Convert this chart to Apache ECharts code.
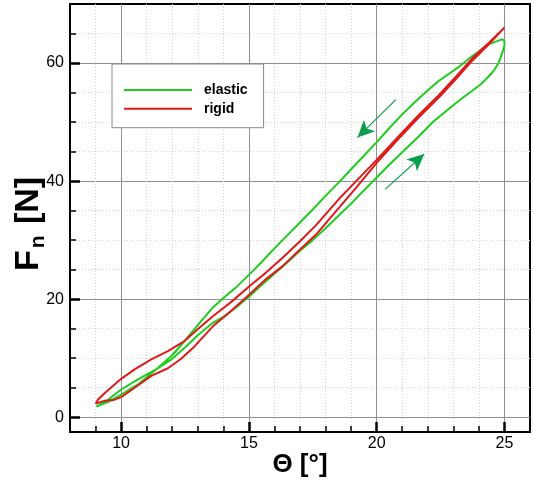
<!DOCTYPE html>
<html>
<head>
<meta charset="utf-8">
<script src="https://cdn.jsdelivr.net/npm/echarts@6/dist/echarts.min.js"></script>
<style>
html,body{margin:0;padding:0;background:#fff;}
#chart{width:534px;height:483px;}
</style>
</head>
<body>
<div id="chart"></div>
<script>
// ---- data ----
var seriesNames = ['elastic', 'rigid'];
var xMajorTicks = [10, 15, 20, 25];
var xMinorTicks = [9, 11, 12, 13, 14, 16, 17, 18, 19, 21, 22, 23, 24];
var yMajorTicks = [0, 20, 40, 60];
var yMinorTicks = [5, 10, 15, 25, 30, 35, 45, 50, 55, 65];

var elasticLoading = [[9.03,1.8],[9.5,3.0],[10.0,4.7],[10.66,6.4],[11.37,8.1],[12.0,9.9],[12.5,11.8],[13.0,13.9],[13.59,16.0],[14.0,17.0],[14.5,18.6],[15.02,20.5],[15.5,22.4],[16.0,24.3],[16.5,26.2],[17.0,28.2],[17.5,30.0],[18.0,32.0],[18.5,34.1],[19.0,36.2],[19.5,38.4],[20.0,40.6],[20.5,42.8],[21.0,44.9],[21.65,47.6],[22.2,50.0],[22.84,52.3],[23.3,53.9],[23.74,55.3],[24.1,56.5],[24.4,57.8],[24.6,58.8],[24.78,60.1],[24.92,61.8],[25.0,63.0],[25.0,63.8]];
var elasticUnloading = [[24.9,64.0],[24.4,63.2],[23.74,61.2],[23.2,59.3],[22.44,57.0],[22.0,55.4],[21.5,53.4],[21.0,51.3],[20.5,49.0],[20.0,46.6],[19.5,44.3],[19.0,42.0],[18.5,39.7],[18.0,37.5],[17.5,35.2],[17.0,33.0],[16.5,30.8],[16.0,28.6],[15.5,26.3],[15.02,24.2],[14.5,22.0],[14.0,20.2],[13.59,18.6],[13.0,15.6],[12.5,13.0],[12.0,10.5],[11.37,8.1],[10.66,5.55],[10.0,3.85],[9.5,2.6],[9.03,1.8]];
var rigidLoading = [[9.0,2.3],[9.36,2.8],[9.7,2.9],[10.0,3.4],[10.53,5.0],[11.18,7.0],[11.83,8.3],[12.35,9.9],[12.87,12.0],[13.59,15.4],[14.2,17.6],[15.02,20.8],[15.67,23.4],[16.32,25.6],[17.0,28.4],[17.62,30.9],[18.53,35.5],[19.2,38.9],[20.0,43.1],[20.8,46.9],[21.65,50.8],[22.44,54.2],[23.1,57.3],[23.74,60.4],[24.4,63.2],[25.0,66.0]];
var rigidUnloading = [[25.0,66.0],[24.4,63.5],[23.74,60.8],[23.1,57.7],[22.44,54.6],[21.65,51.2],[20.8,47.3],[20.0,43.6],[19.2,40.0],[18.53,37.0],[17.62,32.5],[17.0,29.8],[16.32,27.0],[15.67,24.5],[15.02,22.2],[14.3,19.5],[13.59,17.1],[13.13,15.4],[12.48,12.9],[11.83,11.2],[11.18,9.8],[10.53,8.1],[10.0,6.5],[9.6,5.0],[9.36,4.1],[9.1,3.0],[9.0,2.3]];
// direction arrows: [start, end] in data coordinates
var unloadArrow = [[20.75, 53.8], [19.25, 47.4]];
var loadArrow = [[20.33, 38.6], [21.86, 44.6]];

var FONT = 'Liberation Sans';
var chart = echarts.init(document.getElementById('chart'), null, {renderer: 'canvas'});

function displayAxis(dim, min, max, majors, extra) {
  var base = {
    type: 'value', min: min, max: max, position: dim === 'x' ? 'bottom' : 'left',
    axisLine: {show: true, onZero: false, lineStyle: {color: '#000', width: 2}},
    axisTick: {show: true, inside: true, length: 10, customValues: majors, lineStyle: {color: '#000', width: 2.5}},
    axisLabel: {show: true, customValues: majors, fontSize: 16, color: '#000', fontFamily: FONT, margin: dim === 'x' ? 4 : 6},
    splitLine: {show: true, lineStyle: {color: '#8f8f8f', width: 1}},
    minorTick: {show: false},
    nameMoveOverlap: false
  };
  return Object.assign(base, extra || {});
}
function minorAxis(dim, min, max, minors) {
  return {
    type: 'value', min: min, max: max, position: dim === 'x' ? 'bottom' : 'left',
    axisLine: {show: false, onZero: false},
    axisTick: {show: true, inside: true, length: 6, customValues: minors, lineStyle: {color: '#000', width: 1.5}},
    axisLabel: {show: false},
    splitLine: {show: true, lineStyle: {color: '#d4d4d4', width: 1, type: [1, 2]}}
  };
}

var option = {
  animation: false,
  backgroundColor: '#fff',
  textStyle: {fontFamily: FONT},
  grid: {left: 70, right: 4, top: 4, bottom: 51, show: true, borderColor: '#000', borderWidth: 2,
         backgroundColor: 'transparent', containLabel: false, outerBoundsMode: 'none'},
  legend: {
    data: seriesNames, orient: 'vertical', left: 112, top: 64,
    padding: [19, 16, 12, 12], itemGap: 4.7, itemWidth: 68, itemHeight: 2, icon: 'rect',
    backgroundColor: '#fff', borderColor: '#888', borderWidth: 1, borderRadius: 0,
    textStyle: {fontSize: 14, fontWeight: 'bold', color: '#000', fontFamily: FONT, padding: [0, 0, 0, 7], lineHeight: 14}
  },
  xAxis: [
    minorAxis('x', 8, 26, xMinorTicks),
    displayAxis('x', 8, 26, xMajorTicks, {
      name: 'Θ [°]', nameLocation: 'middle', nameGap: 20,
      nameTextStyle: {fontSize: 26, fontWeight: 'bold', color: '#000', fontFamily: FONT, verticalAlign: 'top'}
    })
  ],
  yAxis: [
    minorAxis('y', -2.5, 70, yMinorTicks),
    displayAxis('y', -2.5, 70, yMajorTicks, {
      name: '{a|F}{b|n}{c| [N]}', nameLocation: 'middle', nameGap: 24, nameRotate: 90,
      nameTextStyle: {
        color: '#000', fontFamily: FONT,
        rich: {
          a: {fontSize: 34, fontWeight: 'bold', color: '#000', fontFamily: FONT, lineHeight: 34, verticalAlign: 'top'},
          b: {fontSize: 21, fontWeight: 'bold', color: '#000', fontFamily: FONT, lineHeight: 21, padding: [16, 2, 0, 2], verticalAlign: 'top'},
          c: {fontSize: 34, fontWeight: 'bold', color: '#000', fontFamily: FONT, lineHeight: 34, verticalAlign: 'top', padding: [0, 12, 0, 0]}
        }
      }
    })
  ],
  series: [
    {name: 'elastic', type: 'line', xAxisIndex: 1, yAxisIndex: 1, data: elasticLoading.concat(elasticUnloading),
     symbol: 'none', smooth: false, color: '#1fcc1f', lineStyle: {color: '#1fcc1f', width: 2}, z: 3},
    {name: 'rigid', type: 'line', xAxisIndex: 1, yAxisIndex: 1, data: rigidLoading.concat(rigidUnloading),
     symbol: 'none', smooth: false, color: '#dd1b1b', lineStyle: {color: '#dd1b1b', width: 2}, z: 4},
    {name: 'arrows', type: 'line', xAxisIndex: 1, yAxisIndex: 1, data: [], silent: true, z: 5,
     markLine: {
       silent: true, animation: false, symbol: ['none', 'arrow'], symbolSize: [12, 17],
       label: {show: false},
       lineStyle: {color: '#0a9e4c', width: 1.2, type: 'solid'},
       emphasis: {disabled: true},
       data: [
         [{coord: unloadArrow[0]}, {coord: unloadArrow[1]}],
         [{coord: loadArrow[0]}, {coord: loadArrow[1]}]
       ]
     }}
  ]
};
chart.setOption(option);
</script>
</body>
</html>
